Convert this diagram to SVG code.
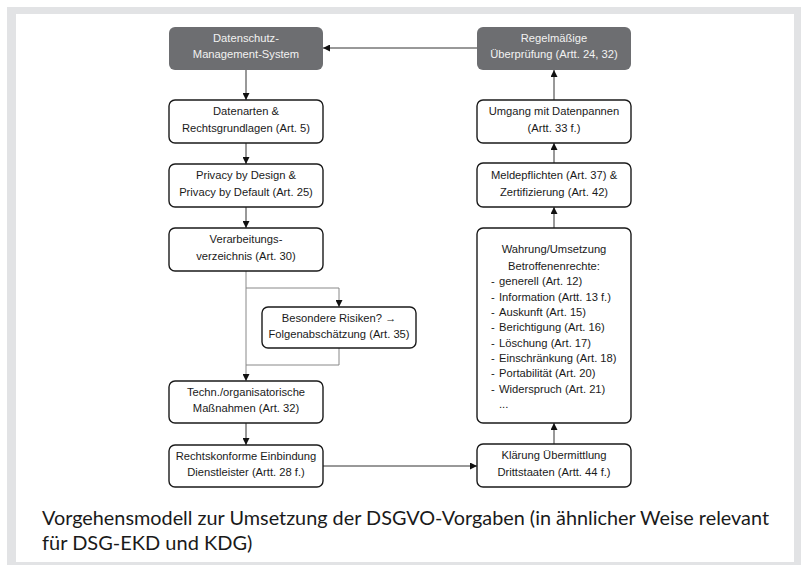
<svg xmlns="http://www.w3.org/2000/svg" width="801" height="565" viewBox="0 0 801 565">
<defs>
<style>
.box{fill:#fff;stroke:#1a1a1a;stroke-width:1.4}
.dark{fill:#6d6e71;stroke:none}
.t{font-family:"Liberation Sans",Arial,sans-serif;font-size:11.2px;fill:#1a1a1a;text-anchor:middle}
.tw{font-family:"Liberation Sans",Arial,sans-serif;font-size:11.2px;fill:#f2f2f2;text-anchor:middle}
.tl{font-family:"Liberation Sans",Arial,sans-serif;font-size:11.2px;fill:#1a1a1a}
.c{fill:none;stroke:#333;stroke-width:1}
.cg{fill:none;stroke:#888;stroke-width:1}
.cap{font-family:Lato,"Open Sans",sans-serif;font-size:20px;fill:#1a1a1a}
</style>
<marker id="ah" viewBox="0 0 8 8" refX="8" refY="4" markerWidth="7" markerHeight="7" markerUnits="userSpaceOnUse" orient="auto">
<path d="M0,0 L8,4 L0,8 Z" fill="#111"/>
</marker>
</defs>
<rect x="0" y="0" width="801" height="565" fill="#fff"/>
<rect x="7" y="7" width="794" height="558" fill="#e2e3e5"/>
<rect x="16" y="14" width="778" height="548" fill="#fff"/>

<g id="connectors">
<path class="c" d="M246,70 V100" marker-end="url(#ah)"/>
<path class="c" d="M246,143 V164" marker-end="url(#ah)"/>
<path class="c" d="M246,207 V228" marker-end="url(#ah)"/>
<path class="cg" d="M246,271 V381" marker-end="url(#ah)"/>
<path class="cg" d="M246,288 H339 V307" marker-end="url(#ah)"/>
<path class="cg" d="M339,348 V365 H246"/>
<path class="c" d="M246,423 V445" marker-end="url(#ah)"/>
<path class="c" d="M323,466 H477" marker-end="url(#ah)"/>
<path class="c" d="M554,444 V423" marker-end="url(#ah)"/>
<path class="c" d="M554,228 V207" marker-end="url(#ah)"/>
<path class="c" d="M554,163 V143" marker-end="url(#ah)"/>
<path class="c" d="M554,100 V70" marker-end="url(#ah)"/>
<path class="c" d="M477,48 H323" marker-end="url(#ah)"/>
</g>

<g id="dms">
<rect class="dark" x="169" y="27" width="154" height="43" rx="6"/>
<text class="tw" x="246" y="42">Datenschutz-</text>
<text class="tw" x="246" y="58">Management-System</text>
</g>
<g id="datenarten">
<rect class="box" x="169" y="100" width="154" height="43" rx="6"/>
<text class="t" x="246" y="115">Datenarten &amp;</text>
<text class="t" x="246" y="131.5">Rechtsgrundlagen (Art. 5)</text>
</g>
<g id="privacy">
<rect class="box" x="169" y="164" width="154" height="43" rx="6"/>
<text class="t" x="246" y="179">Privacy by Design &amp;</text>
<text class="t" x="246" y="195.5">Privacy by Default (Art. 25)</text>
</g>
<g id="verarbeitung">
<rect class="box" x="169" y="228" width="154" height="43" rx="6"/>
<text class="t" x="246" y="243">Verarbeitungs-</text>
<text class="t" x="246" y="259.5">verzeichnis (Art. 30)</text>
</g>
<g id="risiken">
<rect class="box" x="262" y="307" width="154" height="41" rx="6"/>
<text class="t" x="339" y="321.5">Besondere Risiken? →</text>
<text class="t" x="339" y="337.5">Folgenabschätzung (Art. 35)</text>
</g>
<g id="toms">
<rect class="box" x="169" y="381" width="154" height="42" rx="6"/>
<text class="t" x="246" y="396">Techn./organisatorische</text>
<text class="t" x="246" y="412">Maßnahmen (Art. 32)</text>
</g>
<g id="dienstleister">
<rect class="box" x="169" y="445" width="154" height="42" rx="6"/>
<text class="t" x="246" y="460">Rechtskonforme Einbindung</text>
<text class="t" x="246" y="476">Dienstleister (Artt. 28 f.)</text>
</g>
<g id="ueberpruefung">
<rect class="dark" x="477" y="27" width="154" height="43" rx="6"/>
<text class="tw" x="554" y="42">Regelmäßige</text>
<text class="tw" x="554" y="58">Überprüfung (Artt. 24, 32)</text>
</g>
<g id="datenpannen">
<rect class="box" x="477" y="100" width="154" height="43" rx="6"/>
<text class="t" x="554" y="115">Umgang mit Datenpannen</text>
<text class="t" x="554" y="131.5">(Artt. 33 f.)</text>
</g>
<g id="meldepflichten">
<rect class="box" x="477" y="163" width="154" height="44" rx="6"/>
<text class="t" x="554" y="179">Meldepflichten (Art. 37) &amp;</text>
<text class="t" x="554" y="195.5">Zertifizierung (Art. 42)</text>
</g>
<g id="betroffenenrechte">
<rect class="box" x="477" y="228" width="154" height="195" rx="6"/>
<text class="t" x="554" y="253">Wahrung/Umsetzung</text>
<text class="t" x="554" y="270">Betroffenenrechte:</text>
<text class="tl" x="491" y="285">-</text><text class="tl" x="499" y="285">generell (Art. 12)</text>
<text class="tl" x="491" y="300.5">-</text><text class="tl" x="499" y="300.5">Information (Artt. 13 f.)</text>
<text class="tl" x="491" y="316">-</text><text class="tl" x="499" y="316">Auskunft (Art. 15)</text>
<text class="tl" x="491" y="331">-</text><text class="tl" x="499" y="331">Berichtigung (Art. 16)</text>
<text class="tl" x="491" y="346.5">-</text><text class="tl" x="499" y="346.5">Löschung (Art. 17)</text>
<text class="tl" x="491" y="362">-</text><text class="tl" x="499" y="362">Einschränkung (Art. 18)</text>
<text class="tl" x="491" y="377">-</text><text class="tl" x="499" y="377">Portabilität (Art. 20)</text>
<text class="tl" x="491" y="392.5">-</text><text class="tl" x="499" y="392.5">Widerspruch (Art. 21)</text>
<text class="tl" x="499" y="408">...</text>
</g>
<g id="drittstaaten">
<rect class="box" x="477" y="444" width="154" height="43" rx="6"/>
<text class="t" x="554" y="459">Klärung Übermittlung</text>
<text class="t" x="554" y="475.5">Drittstaaten (Artt. 44 f.)</text>
</g>

<text class="cap" x="42" y="525" textLength="727" lengthAdjust="spacingAndGlyphs">Vorgehensmodell zur Umsetzung der DSGVO-Vorgaben (in ähnlicher Weise relevant</text>
<text class="cap" x="42" y="550">für DSG-EKD und KDG)</text>
</svg>
